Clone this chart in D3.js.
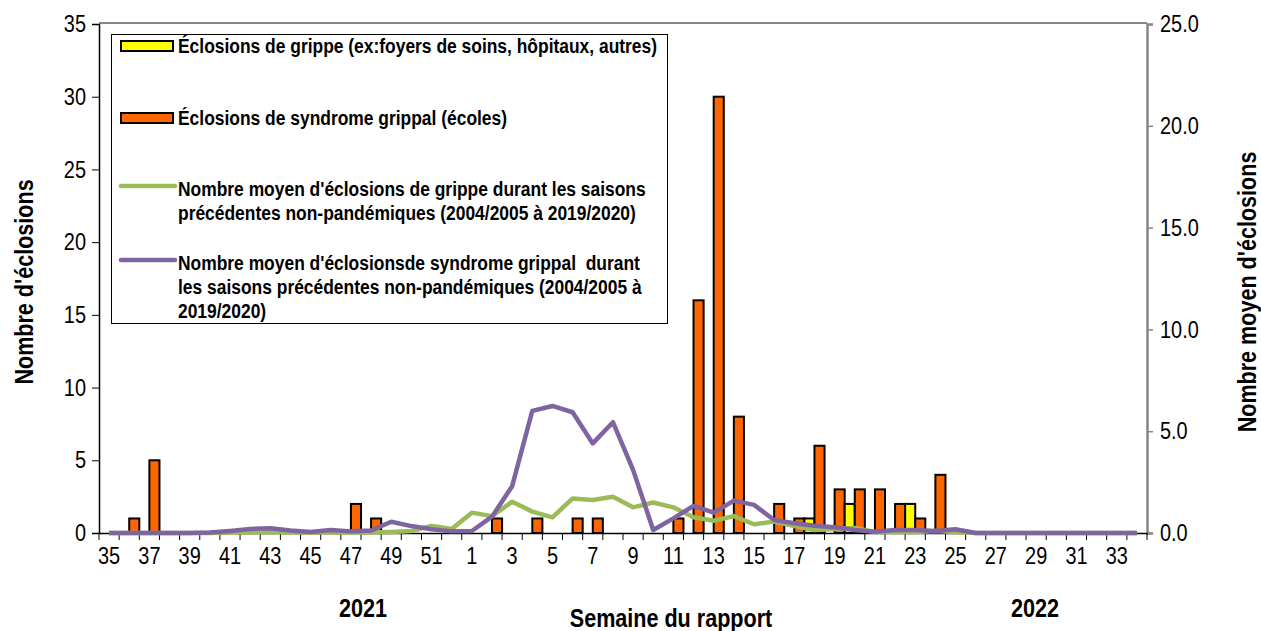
<!DOCTYPE html>
<html>
<head>
<meta charset="utf-8">
<script src="https://cdn.jsdelivr.net/npm/d3@7"></script>
<style>
body { margin: 0; background: #fff; }
text { font-family: "Liberation Sans", Arial, sans-serif; fill: #000; }
</style>
</head>
<body>
<svg></svg>
<script>
// semaines du rapport 35..52 puis 1..34
const weeks = [35,36,37,38,39,40,41,42,43,44,45,46,47,48,49,50,51,52,
  1,2,3,4,5,6,7,8,9,10,11,12,13,14,15,16,17,18,19,20,21,22,23,24,25,26,27,28,29,30,31,32,33,34];

// éclosions de grippe (jaune)
const grippe = [0,0,0,0,0,0,0,0,0,0,0,0,0,0,0,0,0,0,
  0,0,0,0,0,0,0,0,0,0,0,0,0,0,0,0,0,1,0,2,0,0,2,0,0,0,0,0,0,0,0,0,0,0];

// éclosions de syndrome grippal - écoles (orange)
const sgEcoles = [0,1,5,0,0,0,0,0,0,0,0,0,2,1,0,0,0,0,
  0,1,0,1,0,1,1,0,0,0,1,16,30,8,0,2,1,6,3,3,3,2,1,4,0,0,0,0,0,0,0,0,0,0];

// moyenne grippe saisons précédentes (vert)
const moyGrippe = [0,0,0,0,0,0,0.02,0.03,0.05,0.03,0.02,0.03,0.02,0.02,0.05,0.1,0.35,0.2,
  1.0,0.83,1.54,1.05,0.77,1.7,1.62,1.78,1.26,1.5,1.26,0.77,0.6,0.83,0.43,0.56,0.34,0.15,0.2,0.25,
  0.05,0.05,0.05,0.1,0.05,0,0,0,0,0,0,0,0,0];

// moyenne syndrome grippal saisons précédentes (violet)
const moySG = [0,0,0,0,0,0.02,0.1,0.2,0.23,0.12,0.05,0.15,0.08,0.12,0.55,0.34,0.18,0.08,
  0.1,0.8,2.3,6.0,6.24,5.93,4.4,5.44,3.1,0.15,0.72,1.33,1.0,1.59,1.38,0.64,0.48,0.36,0.28,0.15,
  0.06,0.15,0.15,0.1,0.18,0,0,0,0,0,0,0,0,0];

const leftTicks = [0,5,10,15,20,25,30,35];
const rightTicks = [0,5,10,15,20,25];

const legendItems = [
  {type: 'bar', color: '#FFFF00', lines: ['Éclosions de grippe (ex:foyers de soins, hôpitaux, autres)']},
  {type: 'bar', color: '#FF6600', lines: ['Éclosions de syndrome grippal (écoles)']},
  {type: 'line', color: '#9BBB59', lines: ["Nombre moyen d'éclosions de grippe durant les saisons",
    'précédentes non-pandémiques (2004/2005 à 2019/2020)']},
  {type: 'line', color: '#8064A2', lines: ["Nombre moyen d'éclosionsde syndrome grippal  durant",
    'les saisons précédentes non-pandémiques (2004/2005 à', '2019/2020)']}
];

const W = 1261, H = 631;
const m = {left: 99, right: 1147, top: 24, bottom: 533};
const NARROW = 0.83; // police étroite (type Arial Narrow)

const svg = d3.select('svg').attr('width', W).attr('height', H);

// déplace x/y dans un transform pour pouvoir compresser le texte horizontalement
function narrow(sel) {
  sel.each(function() {
    const t = d3.select(this);
    const tx = +t.attr('x') || 0, ty = +t.attr('y') || 0;
    t.attr('x', 0).attr('y', 0).attr('transform', `translate(${tx},${ty}) scale(${NARROW},1)`)
      .style('white-space', 'pre');
  });
}

const x = d3.scaleBand().domain(weeks).range([m.left, m.right]).padding(0);
const xs = d3.scaleBand().domain(['grippe', 'sg']).range([0, x.bandwidth()]).padding(0);
const y = d3.scaleLinear().domain([0, 35]).range([m.bottom, m.top]);
const y2 = d3.scaleLinear().domain([0, 25]).range([m.bottom, m.top]);

// cadre gris
svg.append('line').attr('x1', m.left).attr('x2', m.right).attr('y1', m.top - 1).attr('y2', m.top - 1)
  .attr('stroke', '#868686').attr('stroke-width', 2);

// barres
const data = weeks.map((w, i) => ({w, grippe: grippe[i], sg: sgEcoles[i]}));
const groups = svg.append('g').selectAll('g').data(data).enter().append('g')
  .attr('transform', d => `translate(${x(d.w)},0)`);
groups.selectAll('rect')
  .data(d => [{k: 'grippe', v: d.grippe, c: '#FFFF00'}, {k: 'sg', v: d.sg, c: '#FF6600'}].filter(e => e.v > 0))
  .enter().append('rect')
  .attr('x', e => xs(e.k))
  .attr('width', xs.bandwidth())
  .attr('y', e => y(e.v))
  .attr('height', e => y(0) - y(e.v))
  .attr('fill', e => e.c)
  .attr('stroke', '#000')
  .attr('stroke-width', 2);

// axe gauche
const gl = svg.append('g').attr('transform', `translate(${m.left},0)`)
  .call(d3.axisLeft(y).tickValues(leftTicks).tickSize(7).tickPadding(6));
gl.select('.domain').attr('stroke', '#000').attr('stroke-width', 1.5);
gl.selectAll('text').style('font-size', '24px').call(narrow);

// axe droit
const gr = svg.append('g').attr('transform', `translate(${m.right},0)`)
  .call(d3.axisRight(y2).tickValues(rightTicks).tickFormat(d3.format('.1f')).tickSize(6).tickPadding(7));
gr.select('.domain').attr('stroke', '#868686').attr('stroke-width', 2.5);
gr.selectAll('.tick line').attr('stroke', '#868686').attr('stroke-width', 1.5);
gr.selectAll('text').style('font-size', '24px').call(narrow);

// axe du bas
const gb = svg.append('g').attr('transform', `translate(0,${m.bottom})`)
  .call(d3.axisBottom(x).tickSize(0).tickPadding(14)
    .tickFormat((d, i) => i % 2 === 0 ? d : ''));
gb.select('.domain').attr('stroke', '#000').attr('stroke-width', 1.5);
gb.selectAll('text').style('font-size', '24px').call(narrow);
gb.selectAll('.bnd').data(weeks.map(w => x(w)).concat([x.range()[1]])).enter().append('line')
  .attr('class', 'bnd').attr('x1', d => d).attr('x2', d => d).attr('y1', 0).attr('y2', 7)
  .attr('stroke', '#000').attr('stroke-width', 1);

// lignes des moyennes
const line = vals => d3.line()
  .x((d, i) => x(weeks[i]) + x.bandwidth() / 2)
  .y(d => y2(d))(vals);
svg.append('path').attr('d', line(moyGrippe)).attr('fill', 'none')
  .attr('stroke', '#9BBB59').attr('stroke-width', 4.5).attr('stroke-linejoin', 'round');
svg.append('path').attr('d', line(moySG)).attr('fill', 'none')
  .attr('stroke', '#8064A2').attr('stroke-width', 4.5).attr('stroke-linejoin', 'round');

// légende
const lg = svg.append('g');
lg.append('rect').attr('x', 111.5).attr('y', 34.5).attr('width', 556).attr('height', 289)
  .attr('fill', '#fff').attr('stroke', '#000').attr('stroke-width', 1);
const legendY = [53, 125, 196, 270];
legendItems.forEach((it, i) => {
  const by = legendY[i];
  if (it.type === 'bar') {
    lg.append('rect').attr('x', 121).attr('y', by - 12).attr('width', 52).attr('height', 10)
      .attr('fill', it.color).attr('stroke', '#000').attr('stroke-width', 2);
  } else {
    lg.append('line').attr('x1', 121).attr('x2', 175).attr('y1', by - 10).attr('y2', by - 10)
      .attr('stroke', it.color).attr('stroke-width', 4.5).attr('stroke-linecap', 'round');
  }
  it.lines.forEach((t, j) => {
    lg.append('text').attr('x', 178).attr('y', by + j * 24)
      .style('font-size', '21px').style('font-weight', 'bold').text(t).call(narrow);
  });
});

// titres
const title = (t, tr) => svg.append('text').attr('transform', tr)
  .attr('text-anchor', 'middle').style('font-size', '26px').style('font-weight', 'bold').text(t);
title("Nombre d'éclosions", `translate(33,282) rotate(-90) scale(${NARROW},1)`);
title("Nombre moyen d'éclosions", `translate(1256,292) rotate(-90) scale(${NARROW},1)`);
title('Semaine du rapport', `translate(671,627) scale(${NARROW},1)`);
title('2021', `translate(363,617) scale(${NARROW},1)`);
title('2022', `translate(1035,617) scale(${NARROW},1)`);
</script>
</body>
</html>
